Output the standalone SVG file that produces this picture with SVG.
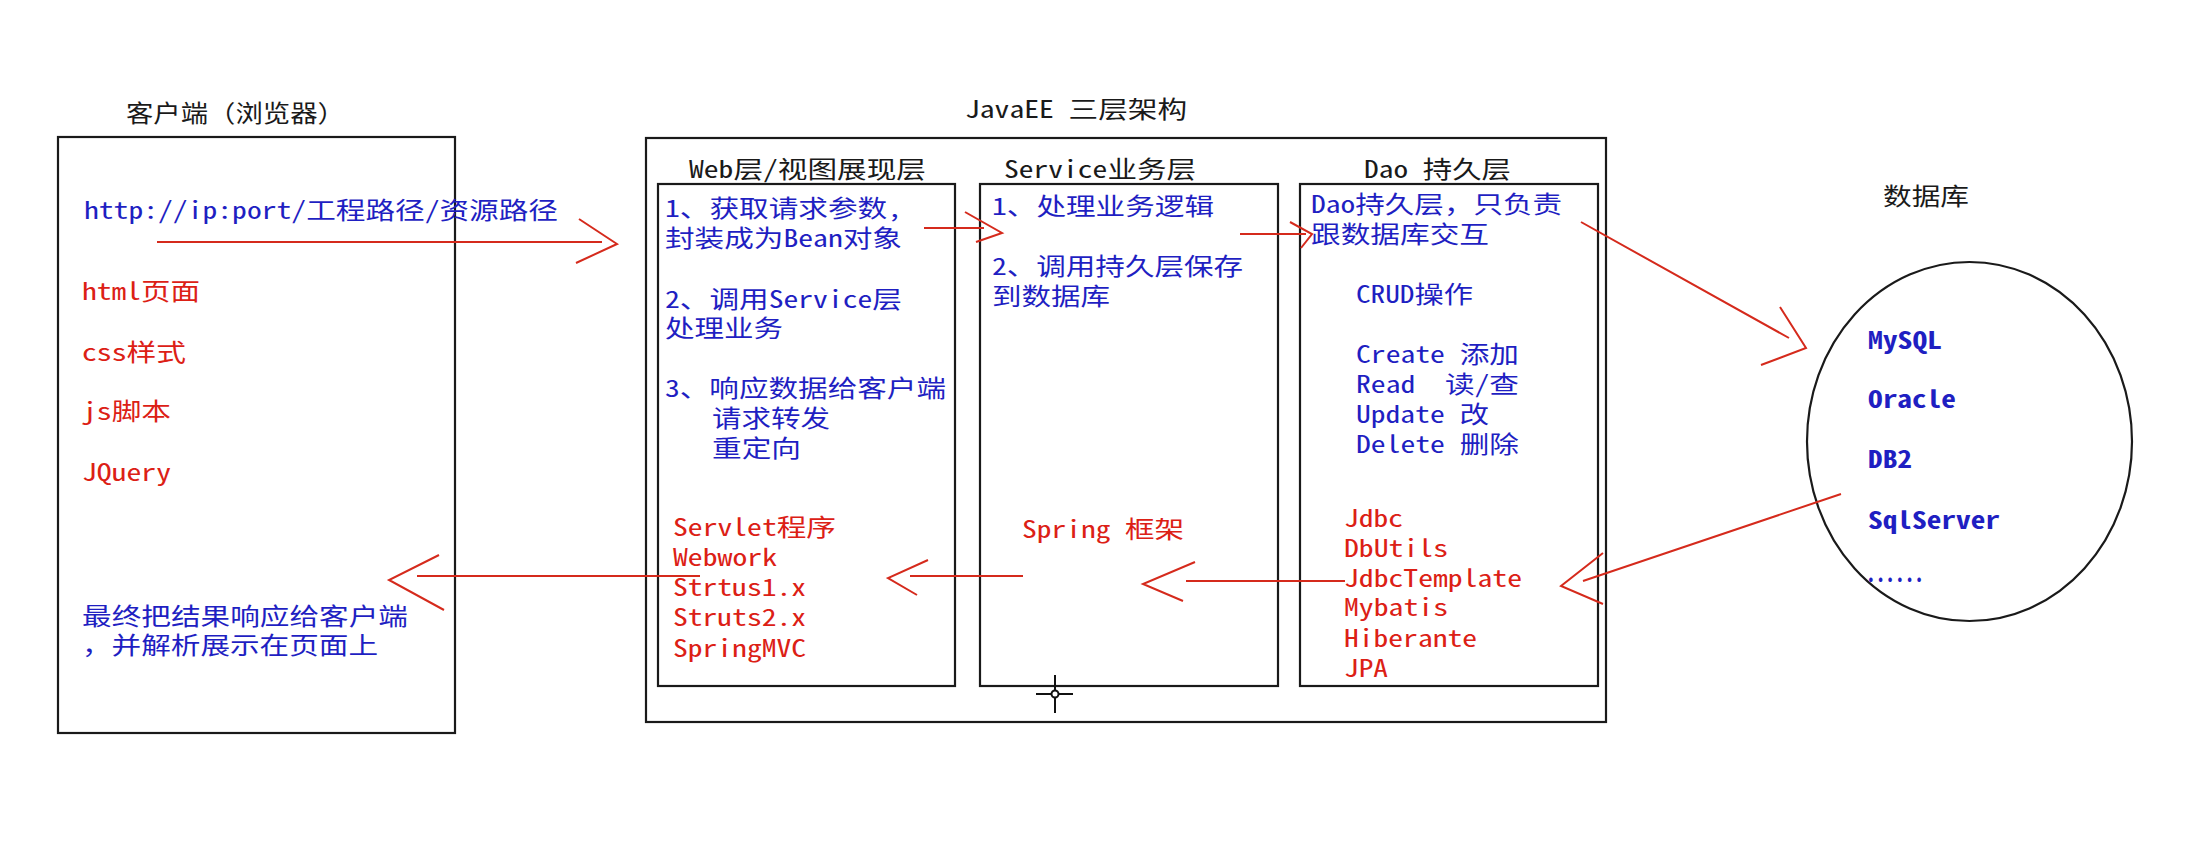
<svg xmlns="http://www.w3.org/2000/svg" width="2200" height="847" viewBox="0 0 2200 847">
<style>
.box{fill:none;stroke:#1a1a1a;stroke-width:2.2}
.t{font-family:"Noto Sans Mono CJK SC","Liberation Mono","Noto Sans CJK SC",monospace;font-size:24px}
.blue{fill:#1f1fc2}
.red{fill:#dc2015}
.black{fill:#1a1a1a}
.db{font-weight:bold}
.conn path{stroke:#d52a1c;stroke-width:2;fill:none}
</style>
<rect width="2200" height="847" fill="#ffffff"/>

<g id="client">
  <text class="t black" x="126" y="122" textLength="219" lengthAdjust="spacingAndGlyphs">客户端（浏览器）</text>
  <rect class="box" x="58" y="137" width="397" height="596"/>
  <text class="t blue" x="84" y="219" textLength="474" lengthAdjust="spacingAndGlyphs">http://ip:port/工程路径/资源路径</text>
  <text class="t red" x="82" y="300" textLength="118" lengthAdjust="spacingAndGlyphs">html页面</text>
  <text class="t red" x="82" y="361" textLength="104" lengthAdjust="spacingAndGlyphs">css样式</text>
  <text class="t red" x="82" y="420" textLength="89" lengthAdjust="spacingAndGlyphs">js脚本</text>
  <text class="t red" x="82" y="481" textLength="89" lengthAdjust="spacingAndGlyphs">JQuery</text>
  <text class="t blue" x="82" y="625" textLength="326" lengthAdjust="spacingAndGlyphs">最终把结果响应给客户端</text>
  <text class="t blue" x="82" y="654" textLength="296" lengthAdjust="spacingAndGlyphs">，并解析展示在页面上</text>
</g>

<g id="javaee">
  <text class="t black" x="965" y="118" textLength="222" lengthAdjust="spacingAndGlyphs">JavaEE 三层架构</text>
  <rect class="box" x="646" y="138" width="960" height="584"/>
</g>

<g id="web">
  <text class="t black" x="689" y="178" textLength="237" lengthAdjust="spacingAndGlyphs">Web层/视图展现层</text>
  <rect class="box" x="658" y="184" width="297" height="502"/>
  <text class="t blue" x="665" y="217" textLength="237" lengthAdjust="spacingAndGlyphs">1、获取请求参数,</text>
  <text class="t blue" x="665" y="247" textLength="237" lengthAdjust="spacingAndGlyphs">封装成为Bean对象</text>
  <text class="t blue" x="665" y="308" textLength="237" lengthAdjust="spacingAndGlyphs">2、调用Service层</text>
  <text class="t blue" x="665" y="337" textLength="118" lengthAdjust="spacingAndGlyphs">处理业务</text>
  <text class="t blue" x="665" y="397" textLength="281" lengthAdjust="spacingAndGlyphs">3、响应数据给客户端</text>
  <text class="t blue" x="712" y="427" textLength="118" lengthAdjust="spacingAndGlyphs">请求转发</text>
  <text class="t blue" x="712" y="457" textLength="89" lengthAdjust="spacingAndGlyphs">重定向</text>
  <text class="t red" x="673" y="536" textLength="163" lengthAdjust="spacingAndGlyphs">Servlet程序</text>
  <text class="t red" x="673" y="566" textLength="104" lengthAdjust="spacingAndGlyphs">Webwork</text>
  <text class="t red" x="673" y="596" textLength="133" lengthAdjust="spacingAndGlyphs">Strtus1.x</text>
  <text class="t red" x="673" y="626" textLength="133" lengthAdjust="spacingAndGlyphs">Struts2.x</text>
  <text class="t red" x="673" y="657" textLength="133" lengthAdjust="spacingAndGlyphs">SpringMVC</text>
</g>

<g id="service">
  <text class="t black" x="1004" y="178" textLength="192" lengthAdjust="spacingAndGlyphs">Service业务层</text>
  <rect class="box" x="980" y="184" width="298" height="502"/>
  <text class="t blue" x="992" y="215" textLength="222" lengthAdjust="spacingAndGlyphs">1、处理业务逻辑</text>
  <text class="t blue" x="992" y="275" textLength="251" lengthAdjust="spacingAndGlyphs">2、调用持久层保存</text>
  <text class="t blue" x="992" y="305" textLength="118" lengthAdjust="spacingAndGlyphs">到数据库</text>
  <text class="t red" x="1022" y="538" textLength="162" lengthAdjust="spacingAndGlyphs">Spring 框架</text>
</g>

<g id="dao">
  <text class="t black" x="1364" y="178" textLength="147" lengthAdjust="spacingAndGlyphs">Dao 持久层</text>
  <rect class="box" x="1300" y="184" width="298" height="502"/>
  <text class="t blue" x="1311" y="213" textLength="251" lengthAdjust="spacingAndGlyphs">Dao持久层，只负责</text>
  <text class="t blue" x="1311" y="243" textLength="178" lengthAdjust="spacingAndGlyphs">跟数据库交互</text>
  <text class="t blue" x="1356" y="303" textLength="117" lengthAdjust="spacingAndGlyphs">CRUD操作</text>
  <text class="t blue" x="1356" y="363" textLength="163" lengthAdjust="spacingAndGlyphs">Create 添加</text>
  <text class="t blue" x="1356" y="393" textLength="163" lengthAdjust="spacingAndGlyphs" xml:space="preserve">Read  读/查</text>
  <text class="t blue" x="1356" y="423" textLength="133" lengthAdjust="spacingAndGlyphs">Update 改</text>
  <text class="t blue" x="1356" y="453" textLength="163" lengthAdjust="spacingAndGlyphs">Delete 删除</text>
  <text class="t red" x="1344" y="527" textLength="59" lengthAdjust="spacingAndGlyphs">Jdbc</text>
  <text class="t red" x="1344" y="557" textLength="104" lengthAdjust="spacingAndGlyphs">DbUtils</text>
  <text class="t red" x="1344" y="587" textLength="178" lengthAdjust="spacingAndGlyphs">JdbcTemplate</text>
  <text class="t red" x="1344" y="616" textLength="104" lengthAdjust="spacingAndGlyphs">Mybatis</text>
  <text class="t red" x="1344" y="647" textLength="133" lengthAdjust="spacingAndGlyphs">Hiberante</text>
  <text class="t red" x="1344" y="677" textLength="44" lengthAdjust="spacingAndGlyphs">JPA</text>
</g>

<g id="database">
  <text class="t black" x="1883" y="205" textLength="86" lengthAdjust="spacingAndGlyphs">数据库</text>
  <ellipse class="box" cx="1969.5" cy="441.5" rx="162.5" ry="179.5"/>
  <text class="t blue db" x="1868" y="349" textLength="74" lengthAdjust="spacingAndGlyphs">MySQL</text>
  <text class="t blue db" x="1868" y="408" textLength="88" lengthAdjust="spacingAndGlyphs">Oracle</text>
  <text class="t blue db" x="1868" y="468" textLength="44" lengthAdjust="spacingAndGlyphs">DB2</text>
  <text class="t blue db" x="1868" y="529" textLength="132" lengthAdjust="spacingAndGlyphs">SqlServer</text>
  <text class="t blue db" x="1866" y="582" textLength="58" lengthAdjust="spacingAndGlyphs">......</text>
</g>

<g id="connectors" class="conn">
  <path d="M157 242 H602 M579 219 L617 244 L576 263"/>
  <path d="M924 228 H984 M965 212 L1002 233 L976 242"/>
  <path d="M1240 234 H1306 M1290 222 L1312 234 L1301 248"/>
  <path d="M1581 222 L1789 338 M1780 307 L1806 348 L1761 365"/>
  <path d="M1841 494 L1583 581 M1603 553 L1561 586 L1603 604"/>
  <path d="M1186 581 H1345 M1195 562 L1143 584 L1183 601"/>
  <path d="M910 576 H1023 M928 560 L888 578 L917 595"/>
  <path d="M417 576 H700 M439 555 L389 580 L444 610"/>
</g>

<g id="cursor" stroke="#111" stroke-width="2" fill="none">
  <path d="M1055 675 V713 M1036 694 H1073"/>
  <circle cx="1055" cy="694" r="3.5" fill="#fff"/>
</g>
</svg>
